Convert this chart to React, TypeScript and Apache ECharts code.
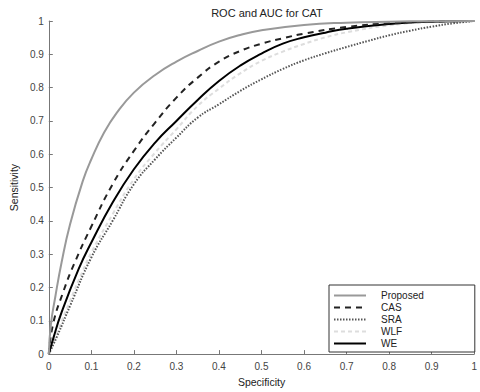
import React, { useEffect, useRef } from "react";
import * as echarts from "echarts";

const seriesNames = ["Proposed", "CAS", "SRA", "WLF", "WE"];

const proposed: [number, number][] = [
  [0, 0], [0.005, 0.09], [0.015, 0.17], [0.03, 0.275], [0.05, 0.39], [0.08, 0.52],
  [0.1, 0.585], [0.13, 0.665], [0.16, 0.725], [0.2, 0.785], [0.25, 0.838], [0.3, 0.878],
  [0.35, 0.91], [0.4, 0.938], [0.45, 0.958], [0.5, 0.972], [0.6, 0.988], [0.7, 0.995],
  [0.8, 0.998], [0.9, 0.9995], [1, 1],
];
const cas: [number, number][] = [
  [0, 0], [0.01, 0.09], [0.034, 0.187], [0.061, 0.275], [0.1, 0.383], [0.15, 0.51],
  [0.2, 0.61], [0.25, 0.695], [0.3, 0.77], [0.35, 0.83], [0.4, 0.878], [0.45, 0.91],
  [0.5, 0.932], [0.55, 0.948], [0.6, 0.962], [0.7, 0.982], [0.8, 0.993], [0.9, 0.998], [1, 1],
];
const sra: [number, number][] = [
  [0, 0], [0.02, 0.055], [0.05, 0.145], [0.1, 0.29], [0.15, 0.4], [0.2, 0.51],
  [0.25, 0.585], [0.3, 0.65], [0.35, 0.71], [0.4, 0.75], [0.45, 0.79], [0.5, 0.825],
  [0.55, 0.856], [0.6, 0.882], [0.65, 0.903], [0.7, 0.922], [0.75, 0.94], [0.8, 0.957],
  [0.85, 0.971], [0.9, 0.983], [0.95, 0.993], [1, 1],
];
const wlf: [number, number][] = [
  [0, 0], [0.02, 0.065], [0.05, 0.16], [0.08, 0.25], [0.1, 0.305], [0.15, 0.42],
  [0.2, 0.525], [0.25, 0.605], [0.3, 0.675], [0.35, 0.745], [0.4, 0.797], [0.45, 0.843],
  [0.5, 0.88], [0.55, 0.908], [0.6, 0.931], [0.65, 0.951], [0.7, 0.966], [0.8, 0.987],
  [0.9, 0.997], [1, 1],
];
const we: [number, number][] = [
  [0, 0], [0.01, 0.045], [0.03, 0.125], [0.07, 0.255], [0.1, 0.335], [0.15, 0.455],
  [0.2, 0.555], [0.25, 0.635], [0.3, 0.7], [0.35, 0.763], [0.4, 0.82], [0.45, 0.866],
  [0.5, 0.902], [0.55, 0.932], [0.6, 0.951], [0.65, 0.965], [0.7, 0.977], [0.8, 0.991],
  [0.9, 0.998], [1, 1],
];

const FONT = "Liberation Sans, Arial, sans-serif";

export default function App() {
  const ref = useRef<HTMLDivElement>(null);
  useEffect(() => {
    if (!ref.current) return;
    const chart = echarts.init(ref.current, undefined, { renderer: "svg" });
    const mk = (name: string, data: [number, number][], color: string, type: any, width: number, z: number) => ({
      name,
      type: "line",
      data,
      smooth: 0.5,
      symbol: "none",
      z,
      lineStyle: { color, type, width, cap: "butt" },
      itemStyle: { color },
    });
    chart.setOption({
      animation: false,
      textStyle: { fontFamily: FONT },
      title: {
        text: "ROC and AUC for CAT",
        left: 262,
        textAlign: "center",
        top: 2,
        textStyle: { fontSize: 11, fontWeight: "normal", color: "#222", fontFamily: FONT },
      },
      grid: { left: 47, right: 3, top: 21, bottom: 32, containLabel: false },
      legend: {
        orient: "vertical",
        left: 329,
        top: 285,
        data: seriesNames,
        itemWidth: 32,
        itemHeight: 11,
        itemGap: 1,
        padding: [5, 51, 3, 4],
        borderColor: "#333",
        borderWidth: 1,
        backgroundColor: "#fff",
        itemStyle: { opacity: 0 },
        textStyle: { fontSize: 10, color: "#222", fontFamily: FONT, padding: [0, 0, 0, 10], lineHeight: 11 },
      },
      xAxis: {
        type: "value",
        min: 0,
        max: 1,
        interval: 0.1,
        name: "Specificity",
        nameLocation: "middle",
        nameGap: 20,
        nameTextStyle: { fontSize: 10.5, color: "#222", fontFamily: FONT },
        axisLine: { show: true, lineStyle: { color: "#777" } },
        axisTick: { show: true, inside: true, length: 4, lineStyle: { color: "#777" } },
        axisLabel: { fontSize: 10, color: "#444", margin: 7, fontFamily: FONT },
        splitLine: { show: false },
      },
      yAxis: {
        type: "value",
        min: 0,
        max: 1,
        interval: 0.1,
        name: "Sensitivity",
        nameLocation: "middle",
        nameGap: 25,
        nameTextStyle: { fontSize: 10.5, color: "#222", fontFamily: FONT },
        axisLine: { show: true, lineStyle: { color: "#777" } },
        axisTick: { show: true, inside: true, length: 4, lineStyle: { color: "#777" } },
        axisLabel: { fontSize: 10, color: "#444", margin: 5, fontFamily: FONT },
        splitLine: { show: false },
      },
      series: [
        mk("Proposed", proposed, "#999999", "solid", 2, 5),
        mk("CAS", cas, "#222222", [6, 5], 2, 4),
        mk("SRA", sra, "#555555", [1.5, 1.5], 2, 2),
        mk("WLF", wlf, "#dddddd", [4, 3], 2, 1),
        mk("WE", we, "#000000", "solid", 2, 3),
      ],
    });
    return () => chart.dispose();
  }, []);
  return (
    <div
      ref={ref}
      style={{ position: "fixed", left: 0, top: 0, width: 480, height: 392, background: "#fff" }}
    />
  );
}
